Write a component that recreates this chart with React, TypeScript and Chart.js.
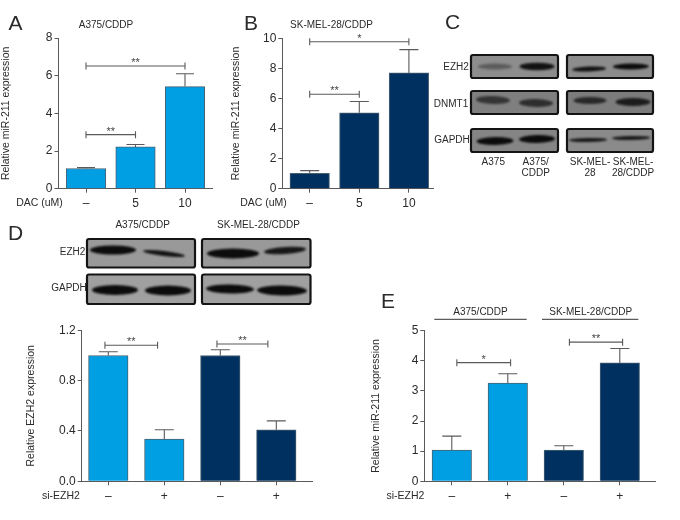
import React, { useEffect, useRef } from "react";
import { Chart, registerables } from "chart.js";

Chart.register(...registerables);

const FONT = '"Liberation Sans Narrow", "Liberation Sans", sans-serif';
const LIGHT = "#009fe3";
const NAVY = "#003060";
const BAR_EDGE = "#4a6172";
const AXIS = "#5a5a5a";
const TEXT = "#2a2a2a";

// ---- data ----
const dacLabels = ["–", "5", "10"];
const siLabels = ["–", "+", "–", "+"];

const aValues = [1.07, 2.22, 5.42];
const aErrors = [1.12, 2.35, 6.1];
const aBrackets = [
  { from: 0, to: 1, y: 2.87, label: "**" },
  { from: 0, to: 2, y: 6.51, label: "**" },
];

const bValues = [1.02, 5.05, 7.7];
const bErrors = [1.2, 5.8, 9.25];
const bBrackets = [
  { from: 0, to: 1, y: 6.28, label: "**" },
  { from: 0, to: 2, y: 9.77, label: "*" },
];

const dValues = [1.0, 0.335, 1.0, 0.41];
const dErrors = [1.03, 0.41, 1.045, 0.48];
const dBrackets = [
  { from: -0.06, to: 0.88, y: 1.081, label: "**" },
  { from: 1.94, to: 2.85, y: 1.091, label: "**" },
];

const eValues = [1.04, 3.26, 1.04, 3.93];
const eErrors = [1.5, 3.57, 1.18, 4.41];
const eBrackets = [
  { from: 0.09, to: 1.05, y: 3.94, label: "*" },
  { from: 2.1, to: 3.05, y: 4.62, label: "**" },
];

const twoBlue = [LIGHT, LIGHT, NAVY, NAVY];

const PANELS = [
  {
    title: "A375/CDDP", yTitle: "Relative miR-211 expression", labels: dacLabels,
    values: aValues, errors: aErrors, brackets: aBrackets, colors: [LIGHT, LIGHT, LIGHT],
    yMax: 8, yStep: 2, yDigits: 0,
    box: { left: 0, top: 0, width: 273 },
    area: { left: 58.5, right: 212, top: 38, bottom: 188.7 },
    x0: 86, step: 49.5, capHalf: 9,
  },
  {
    title: "SK-MEL-28/CDDP", yTitle: "Relative miR-211 expression", labels: dacLabels,
    values: bValues, errors: bErrors, brackets: bBrackets, colors: [NAVY, NAVY, NAVY],
    yMax: 10, yStep: 2, yDigits: 0,
    box: { left: 230, top: 0, width: 258 },
    area: { left: 282.3, right: 433, top: 38.3, bottom: 188.7 },
    x0: 309.7, step: 49.6, capHalf: 9.5,
  },
  {
    title: "", yTitle: "Relative EZH2 expression", labels: siLabels,
    values: dValues, errors: dErrors, brackets: dBrackets, colors: twoBlue,
    yMax: 1.2, yStep: 0.4, yDigits: 1,
    box: { left: 25, top: 315, width: 300 },
    area: { left: 81.7, right: 312.7, top: 330.3, bottom: 481.3 },
    x0: 108.3, step: 56, capHalf: 9.5,
  },
  {
    title: "", yTitle: "Relative miR-211 expression", labels: siLabels,
    values: eValues, errors: eErrors, brackets: eBrackets, colors: twoBlue,
    yMax: 5, yStep: 1, yDigits: 0,
    box: { left: 370, top: 315, width: 300 },
    area: { left: 424.3, right: 655.7, top: 330.7, bottom: 481.3 },
    x0: 451.8, step: 56, capHalf: 9.5,
  },
];

// band darkness read from the blots, left lane then right lane
const cEzh2 = [0.38, 0.95, 0.95, 1.0];
const cDnmt1 = [0.65, 0.7, 0.75, 0.85];
const cGapdh = [1.0, 1.0, 0.9, 0.9];
const dEzh2 = [1.0, 0.95, 1.0, 0.92];
const dGapdh = [1.0, 1.0, 1.0, 1.0];

const FRAMES = [
  { x: 471, y: 55, w: 87, h: 23, bg: "#8d8d8d", d: cEzh2.slice(0, 2), bands: [[495, 66.5, 34, 6, 0], [537, 66.5, 35, 7.5, 0]] },
  { x: 567, y: 55, w: 86, h: 23, bg: "#8c8c8c", d: cEzh2.slice(2), bands: [[589, 69, 34, 5, -2], [631, 66.5, 36, 6, -1]] },
  { x: 471, y: 91, w: 87, h: 23, bg: "#7f7f7f", d: cDnmt1.slice(0, 2), bands: [[493, 100, 34, 8, 2], [536, 103, 34, 8, 1]] },
  { x: 567, y: 91, w: 86, h: 23, bg: "#7c7c7c", d: cDnmt1.slice(2), bands: [[590, 100.5, 33, 7, 0], [633, 102, 35, 8, 0]] },
  { x: 471, y: 129, w: 87, h: 23, bg: "#858585", d: cGapdh.slice(0, 2), bands: [[495, 141, 37, 8, -1], [537, 139, 36, 8, -1]] },
  { x: 567, y: 129, w: 86, h: 23, bg: "#8a8a8a", d: cGapdh.slice(2), bands: [[588, 140, 38, 4, -1], [631, 138, 38, 4, -1]] },
  { x: 87, y: 239, w: 108, h: 28.5, bg: "#999999", d: dEzh2.slice(0, 2), bands: [[113, 250, 46, 9, 0], [164, 253.5, 42, 5, 7]] },
  { x: 202, y: 239, w: 108.5, h: 28.5, bg: "#999999", d: dEzh2.slice(2), bands: [[233, 253.5, 52, 10, 0], [285, 250.5, 42, 7, -4]] },
  { x: 87, y: 274.5, w: 108, h: 29.5, bg: "#a0a0a0", d: dGapdh.slice(0, 2), bands: [[115, 290, 46, 10, 0], [168, 290.5, 46, 10, 0]] },
  { x: 202, y: 274.5, w: 108.5, h: 29.5, bg: "#a0a0a0", d: dGapdh.slice(2), bands: [[230, 289, 48, 9, 1], [282, 290.5, 50, 10, 1]] },
];

const GROUP_RULES = [
  { x1: 434.3, x2: 526.7, y: 319.3 },
  { x1: 542, x2: 638.3, y: 319.3 },
];

const TEXTS = [
  { t: "A", x: 15.5, y: 22, s: 21 },
  { t: "B", x: 251, y: 22, s: 21 },
  { t: "C", x: 452.5, y: 21, s: 21 },
  { t: "D", x: 15.5, y: 232, s: 21 },
  { t: "E", x: 388, y: 300, s: 21 },
  { t: "DAC (uM)", x: 39.5, y: 201.5, s: 10.5 },
  { t: "DAC (uM)", x: 263.5, y: 201.5, s: 10.5 },
  { t: "si-EZH2", x: 61, y: 494.5, s: 10.5 },
  { t: "si-EZH2", x: 405.5, y: 495, s: 10.5 },
  { t: "EZH2", x: 456, y: 67, s: 10 },
  { t: "DNMT1", x: 451, y: 103.5, s: 10 },
  { t: "GAPDH", x: 452, y: 140, s: 10 },
  { t: "A375", x: 493.3, y: 162, s: 10 },
  { t: "A375/", x: 535.7, y: 162, s: 10 },
  { t: "CDDP", x: 535.7, y: 173, s: 10 },
  { t: "SK-MEL-", x: 590, y: 162, s: 10 },
  { t: "28", x: 590, y: 173, s: 10 },
  { t: "SK-MEL-", x: 633, y: 162, s: 10 },
  { t: "28/CDDP", x: 633, y: 173, s: 10 },
  { t: "EZH2", x: 72.5, y: 252, s: 10 },
  { t: "GAPDH", x: 69, y: 287.5, s: 10 },
  { t: "A375/CDDP", x: 142.7, y: 224.5, s: 10 },
  { t: "SK-MEL-28/CDDP", x: 258.5, y: 224.5, s: 10 },
  { t: "A375/CDDP", x: 480.5, y: 311.5, s: 10 },
  { t: "SK-MEL-28/CDDP", x: 590.7, y: 311.5, s: 10 },
];

// ---- plugins ----
const marksPlugin = {
  id: "marks",
  afterDatasetsDraw(chart: any, _a: any, opts: any) {
    const { ctx, scales } = chart;
    ctx.save();
    ctx.strokeStyle = AXIS;
    ctx.lineWidth = 1.1;
    (opts.errors || []).forEach((top: number, i: number) => {
      const px = scales.x.getPixelForValue(i);
      const y1 = scales.y.getPixelForValue(opts.values[i]);
      const y2 = scales.y.getPixelForValue(top);
      ctx.beginPath();
      ctx.moveTo(px, y1);
      ctx.lineTo(px, y2);
      ctx.moveTo(px - opts.capHalf, y2);
      ctx.lineTo(px + opts.capHalf, y2);
      ctx.stroke();
    });
    (opts.brackets || []).forEach((b: any) => {
      const x1 = scales.x.getPixelForValue(b.from);
      const x2 = scales.x.getPixelForValue(b.to);
      const y = scales.y.getPixelForValue(b.y);
      ctx.beginPath();
      ctx.moveTo(x1, y);
      ctx.lineTo(x2, y);
      ctx.moveTo(x1, y - 3.5);
      ctx.lineTo(x1, y + 3.5);
      ctx.moveTo(x2, y - 3.5);
      ctx.lineTo(x2, y + 3.5);
      ctx.stroke();
      ctx.fillStyle = "#444";
      ctx.font = `11px ${FONT}`;
      ctx.textAlign = "center";
      ctx.textBaseline = "middle";
      ctx.fillText(b.label, (x1 + x2) / 2, y - 3);
    });
    ctx.restore();
  },
};

const blotPlugin = {
  id: "blots",
  afterDraw(chart: any) {
    const ctx = chart.ctx;
    FRAMES.forEach((f) => {
      ctx.save();
      ctx.beginPath();
      ctx.roundRect(f.x, f.y, f.w, f.h, 2);
      ctx.clip();
      ctx.fillStyle = f.bg;
      ctx.fillRect(f.x, f.y, f.w, f.h);
      ctx.filter = "blur(1.2px)";
      f.bands.forEach((b, i) => {
        ctx.fillStyle = `rgba(12,12,12,${f.d[i]})`;
        ctx.beginPath();
        ctx.ellipse(b[0], b[1], b[2] / 2, b[3] / 2, (b[4] * Math.PI) / 180, 0, Math.PI * 2);
        ctx.fill();
      });
      ctx.restore();
      ctx.save();
      ctx.strokeStyle = "#141414";
      ctx.lineWidth = 2.2;
      ctx.beginPath();
      ctx.roundRect(f.x, f.y, f.w, f.h, 2);
      ctx.stroke();
      ctx.restore();
    });
    ctx.save();
    ctx.strokeStyle = "#333";
    ctx.lineWidth = 1;
    GROUP_RULES.forEach((r) => {
      ctx.beginPath();
      ctx.moveTo(r.x1, r.y);
      ctx.lineTo(r.x2, r.y);
      ctx.stroke();
    });
    ctx.restore();
  },
};

function makePanel(canvas: HTMLCanvasElement, p: (typeof PANELS)[number]) {
  const canvasHeight = 520 - p.box.top;
  canvas.width = p.box.width;
  canvas.height = canvasHeight;
  const top = p.area.top - p.box.top;
  const bottom = p.area.bottom - p.box.top;
  const left = p.area.left - p.box.left;
  const right = p.area.right - p.box.left;
  const xMin = (p.area.left - p.x0) / p.step;
  const xMax = (p.area.right - p.x0) / p.step;
  const size = 12;
  const titleHeight = 10 * 1.2;
  return new Chart(canvas, {
    type: "bar",
    data: {
      datasets: [
        {
          data: p.values.map((v, i) => ({ x: i, y: v })),
          backgroundColor: p.colors,
          borderColor: BAR_EDGE,
          borderWidth: 1,
          barThickness: 39.5,
        },
      ],
    },
    plugins: [marksPlugin],
    options: {
      animation: false,
      responsive: false,
      devicePixelRatio: 1,
      layout: {
        padding: { left: 0, right: p.box.width - right, top: p.title ? 0 : top, bottom: 0 },
      },
      plugins: {
        legend: { display: false },
        tooltip: { enabled: false },
        title: {
          display: !!p.title,
          text: p.title,
          color: TEXT,
          font: { family: FONT, size: 10, weight: "normal" },
          padding: { top: 25 - titleHeight / 2, bottom: top - (25 + titleHeight / 2) },
        },
        marks: { values: p.values, errors: p.errors, brackets: p.brackets, capHalf: p.capHalf },
      },
      scales: {
        x: {
          type: "linear",
          min: xMin,
          max: xMax,
          offset: false,
          afterBuildTicks: (s: any) => {
            s.ticks = p.labels.map((_, i) => ({ value: i }));
          },
          afterFit: (s: any) => {
            s.height = canvasHeight - bottom;
          },
          ticks: {
            autoSkip: false,
            maxRotation: 0,
            minRotation: 0,
            padding: 4,
            color: TEXT,
            font: { family: FONT, size },
            callback: (v: any) => p.labels[v],
          },
          grid: { display: true, offset: false, drawOnChartArea: false, drawTicks: true, tickLength: 4, color: AXIS },
          border: { display: true, color: AXIS, width: 1 },
        },
        y: {
          min: 0,
          max: p.yMax,
          afterFit: (s: any) => {
            s.width = left;
          },
          ticks: {
            stepSize: p.yStep,
            padding: 2,
            color: TEXT,
            font: { family: FONT, size },
            callback: (v: any) => Number(v).toFixed(p.yDigits),
          },
          grid: { display: true, drawOnChartArea: false, drawTicks: true, tickLength: 4, color: AXIS },
          border: { display: true, color: AXIS, width: 1 },
          title: {
            display: true,
            text: p.yTitle,
            color: TEXT,
            font: { family: FONT, size: 10.5, weight: "normal" },
            padding: { top: 0, bottom: 0 },
          },
        },
      },
    } as any,
  });
}

export default function App() {
  const blotRef = useRef<HTMLCanvasElement>(null);
  const refs = useRef<(HTMLCanvasElement | null)[]>([]);

  useEffect(() => {
    const charts: Chart[] = [];
    if (blotRef.current) {
      blotRef.current.width = 680;
      blotRef.current.height = 520;
      charts.push(
        new Chart(blotRef.current, {
          type: "scatter",
          data: { datasets: [] },
          plugins: [blotPlugin],
          options: {
            animation: false,
            responsive: false,
            devicePixelRatio: 1,
            plugins: { legend: { display: false }, tooltip: { enabled: false } },
            scales: { x: { display: false }, y: { display: false } },
          } as any,
        })
      );
    }
    PANELS.forEach((p, i) => {
      const c = refs.current[i];
      if (c) charts.push(makePanel(c, p));
    });
    return () => charts.forEach((c) => c.destroy());
  }, []);

  return (
    <div style={{ position: "fixed", left: 0, top: 0, width: 680, height: 520, background: "#fff", overflow: "hidden" }}>
      <canvas ref={blotRef} style={{ position: "absolute", left: 0, top: 0 }} />
      {PANELS.map((p, i) => (
        <canvas
          key={i}
          ref={(el) => {
            refs.current[i] = el;
          }}
          style={{ position: "absolute", left: p.box.left, top: p.box.top }}
        />
      ))}
      {TEXTS.map((l, i) => (
        <div
          key={i}
          style={{
            position: "absolute",
            left: l.x,
            top: l.y,
            transform: "translate(-50%, -50%)",
            fontFamily: FONT,
            fontSize: l.s,
            lineHeight: 1,
            color: TEXT,
            whiteSpace: "nowrap",
          }}
        >
          {l.t}
        </div>
      ))}
    </div>
  );
}
